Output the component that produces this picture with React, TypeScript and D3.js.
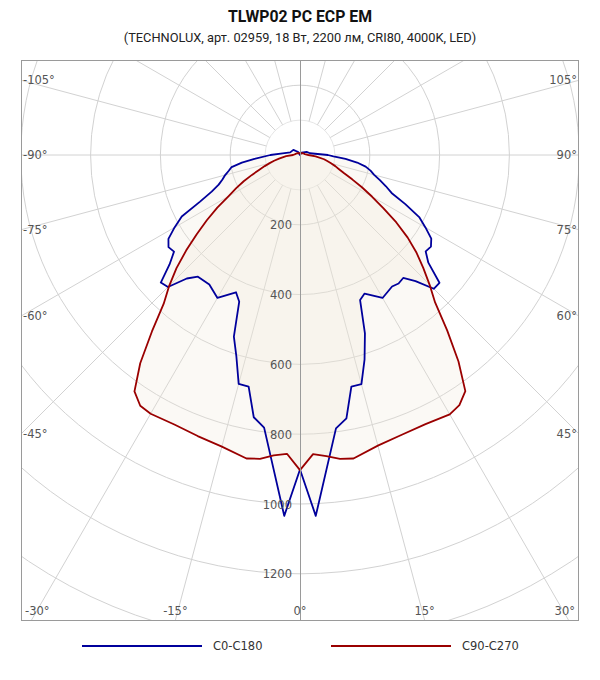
import React, { useRef, useEffect } from "react";
import * as d3 from "d3";

const title = "TLWP02 PC ECP EM";
const subtitle = "(TECHNOLUX, арт. 02959, 18 Вт, 2200 лм, CRI80, 4000K, LED)";

// C0-C180, angle in degrees (0 = down, + to the right), value in cd
const blueAngles = [
  -180, -150, -127.5, -105, -95, -90, -85, -82.5, -80, -77.5, -75, -72.5, -70, -67.5, -65, -62.5,
  -60, -57.5, -55, -52.5, -50, -47.5, -45, -42.5, -40, -35, -30, -25, -22.5, -20, -17.5, -15,
  -12.5, -10, -7.5, -2.5, 0, 2.5, 7.5, 10, 12.5, 15, 17.5, 20, 22.5, 25, 30, 35, 37.5, 40, 42.5,
  45, 47.5, 50, 52.5, 55, 57.5, 60, 62.5, 65, 67.5, 70, 72.5, 75, 77.5, 80, 82.5, 85, 87.5, 90,
  100, 115, 150, 180,
];
const blueValues = [
  0, 10, 24, 29, 50, 85, 131, 168, 199, 209, 222, 233, 248, 274, 316, 382,
  415, 447, 460, 455, 488, 541, 535, 480, 455, 453, 473, 434, 455, 554, 606, 679,
  680, 763, 788, 1035, 901, 1035, 790, 766, 680, 680, 615, 544, 450, 438, 473, 460, 464, 460, 490,
  542, 542, 480, 454, 458, 446, 415, 385, 333, 284, 262, 240, 220, 207, 191, 165, 131, 96, 80,
  29, 21, 8, 0,
];

// C90-C270
const redAngles = [
  -180, -120, -100, -90, -85, -80, -77.5, -75, -72.5, -70, -67.5, -65, -62.5, -60, -57.5, -55,
  -52.5, -50, -47.5, -45, -42.5, -40, -37.5, -35, -32.5, -30, -25, -20, -15, -10, -7.5, -5, -2.5,
  0, 2.5, 5, 7.5, 10, 15, 20, 25, 30, 32.5, 35, 37.5, 40, 42.5, 45, 47.5, 50, 52.5, 55, 57.5, 60,
  62.5, 65, 67.5, 70, 72.5, 75, 77.5, 80, 85, 90, 100, 120, 180,
];
const redValues = [
  5, 10, 14, 20, 40, 61, 76, 90, 106, 125, 149, 178, 206, 236, 281, 326,
  373, 426, 480, 530, 578, 660, 752, 827, 852, 856, 852, 857, 865, 883, 878, 864, 857,
  903, 858, 866, 878, 883, 862, 853, 851, 858, 850, 826, 746, 656, 573, 525, 479, 436, 389, 337, 283, 238,
  200, 165, 137, 119, 106, 92, 80, 70, 45, 24, 14, 10, 5,
];

const radialTicks = [200, 400, 600, 800, 1000, 1200];
const gridRings = [200, 400, 600, 800, 1000, 1200, 1400, 1600];
const angleTicks = [-105, -90, -75, -60, -45, -30, -15, 0, 15, 30, 45, 60, 75, 90, 105];
const seriesNames = ["C0-C180", "C90-C270"];
const seriesColors = ["#00009c", "#9a0000"];

export default function App() {
  const ref = useRef<SVGSVGElement>(null);

  useEffect(() => {
    if (!ref.current) return;
    const svg = d3.select(ref.current);
    svg.selectAll("*").remove();

    const box = { left: 21, top: 60, right: 579, bottom: 620 };
    const cx = 300;
    const cy = 155;
    const r = d3.scaleLinear().domain([0, 1200]).range([0, 418.8]);
    const rad = (a: number) => (a * Math.PI) / 180;
    const font = "'DejaVu Sans', Verdana, sans-serif";

    svg.append("rect").attr("width", 600).attr("height", 680).attr("fill", "#fff");

    svg.append("text")
      .attr("x", 300).attr("y", 22)
      .attr("text-anchor", "middle")
      .attr("font-family", "Roboto, sans-serif")
      .attr("font-weight", "bold")
      .attr("font-size", 15.8)
      .attr("fill", "#111")
      .text(title);
    svg.append("text")
      .attr("x", 300).attr("y", 42)
      .attr("text-anchor", "middle")
      .attr("font-family", "Roboto, sans-serif")
      .attr("font-size", 12.8)
      .attr("fill", "#222")
      .text(subtitle);

    svg.append("defs").append("clipPath").attr("id", "plotclip")
      .append("rect")
      .attr("x", box.left).attr("y", box.top)
      .attr("width", box.right - box.left).attr("height", box.bottom - box.top);

    const g = svg.append("g").attr("clip-path", "url(#plotclip)");

    // rings
    g.append("circle")
      .attr("cx", cx).attr("cy", cy).attr("r", r(100))
      .attr("fill", "none").attr("stroke", "#e6e6e6");
    g.selectAll("circle.ring")
      .data(gridRings)
      .enter()
      .append("circle")
      .attr("class", "ring")
      .attr("cx", cx).attr("cy", cy)
      .attr("r", (d) => r(d))
      .attr("fill", "none")
      .attr("stroke", "#d2d2d2");

    // spokes every 15 degrees
    const spokes = d3.range(0, 360, 15).filter((a) => a !== 0 && a !== 180);
    g.selectAll("line.spoke")
      .data(spokes)
      .enter()
      .append("line")
      .attr("class", "spoke")
      .attr("x1", (a) => cx + r(100) * Math.sin(rad(a)))
      .attr("y1", (a) => cy + r(100) * Math.cos(rad(a)))
      .attr("x2", (a) => cx + r(2000) * Math.sin(rad(a)))
      .attr("y2", (a) => cy + r(2000) * Math.cos(rad(a)))
      .attr("stroke", "#d2d2d2");

    // curves
    const lineGen = d3.lineRadial<[number, number]>()
      .angle((d) => Math.PI - rad(d[0]))
      .radius((d) => r(d[1]))
      .curve(d3.curveLinearClosed);

    const blue: [number, number][] = blueAngles.map((a, i) => [a, blueValues[i]]);
    const red: [number, number][] = redAngles.map((a, i) => [a, redValues[i]]);

    const curves = g.append("g").attr("transform", `translate(${cx},${cy})`);
    [red, blue].forEach((data) => {
      curves.append("path")
        .attr("d", lineGen(data))
        .attr("fill", "rgb(238,230,214)")
        .attr("fill-opacity", 0.25)
        .attr("stroke", "none");
    });

    // vertical axis
    g.append("line")
      .attr("x1", cx + 0.5).attr("x2", cx + 0.5)
      .attr("y1", box.top).attr("y2", box.bottom)
      .attr("stroke", "#9a9a9a");

    // radial tick labels
    g.selectAll("text.rtick")
      .data(radialTicks)
      .enter()
      .append("text")
      .attr("class", "rtick")
      .attr("x", cx - 8)
      .attr("y", (d) => cy + r(d) + 4.5)
      .attr("text-anchor", "end")
      .attr("font-family", font)
      .attr("font-size", 11.5)
      .attr("fill", "#555")
      .text((d) => d);

    [blue, red].forEach((data, i) => {
      curves.append("path")
        .attr("d", lineGen(data))
        .attr("fill", "none")
        .attr("stroke", seriesColors[i])
        .attr("stroke-width", 1.8)
        .attr("stroke-linejoin", "round");
    });

    // frame
    svg.append("rect")
      .attr("x", box.left + 0.5).attr("y", box.top + 0.5)
      .attr("width", box.right - box.left - 1).attr("height", box.bottom - box.top)
      .attr("fill", "none")
      .attr("stroke", "#9a9a9a");

    // angle labels on the frame
    angleTicks.forEach((a) => {
      const sx = Math.sin(rad(a));
      const sy = Math.cos(rad(a));
      let x = 0;
      let y = 0;
      let anchor = "middle";
      const side = a < 0 ? box.left : box.right;
      const tSide = sx !== 0 ? (side - cx) / sx : Infinity;
      const ySide = cy + tSide * sy;
      if (sx !== 0 && ySide <= box.bottom - 14) {
        y = ySide + 4;
        if (a < 0) { x = box.left + 2; anchor = "start"; }
        else { x = box.right - 2; anchor = "end"; }
      } else {
        const t = (box.bottom - cy) / sy;
        x = cx + t * sx;
        y = box.bottom - 5;
        if (x - 14 < box.left) { x = box.left + 4; anchor = "start"; }
        else if (x + 14 > box.right) { x = box.right - 4; anchor = "end"; }
      }
      svg.append("text")
        .attr("x", x).attr("y", y)
        .attr("text-anchor", anchor)
        .attr("font-family", font)
        .attr("font-size", 11.5)
        .attr("fill", "#555")
        .text(`${a}°`);
    });

    // legend
    const legendX = [82, 331];
    seriesNames.forEach((name, i) => {
      svg.append("line")
        .attr("x1", legendX[i]).attr("x2", legendX[i] + 120)
        .attr("y1", 646).attr("y2", 646)
        .attr("stroke", seriesColors[i])
        .attr("stroke-width", 2);
      svg.append("text")
        .attr("x", legendX[i] + 131).attr("y", 650)
        .attr("font-family", font)
        .attr("font-size", 11.5)
        .attr("fill", "#333")
        .text(name);
    });
  }, []);

  return (
    <div style={{ position: "absolute", left: 0, top: 0 }}>
      <svg ref={ref} width={600} height={680} style={{ display: "block" }} />
    </div>
  );
}
